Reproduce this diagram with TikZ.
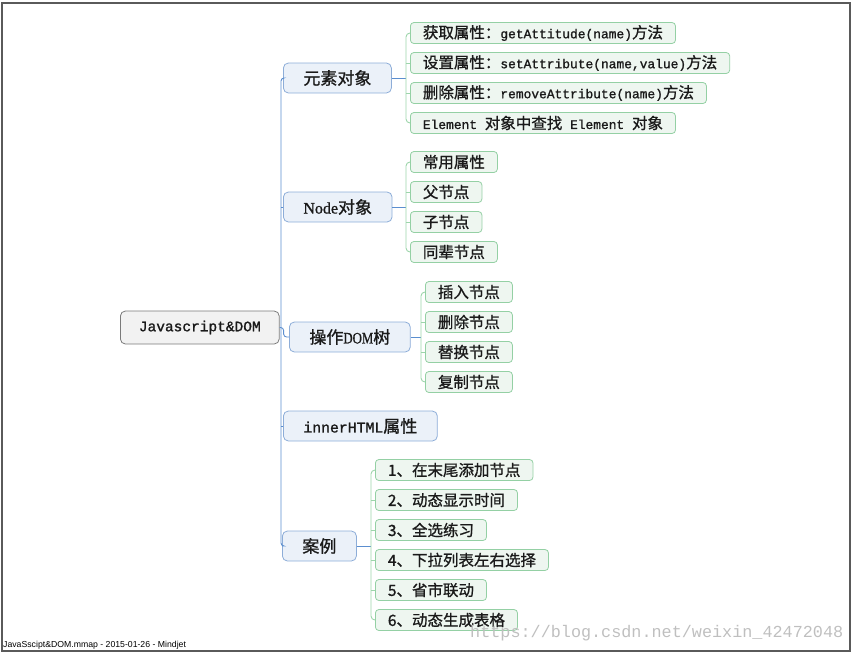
\documentclass[tikz,border=0pt]{standalone}
\usepackage{fontspec}
\usepackage{graphicx}
\setmainfont{Liberation Serif}
\setmonofont{Liberation Mono}[FakeBold=1.2]
\newfontfamily\cjk{Noto Sans CJK SC}[FakeBold=1.0]
\newfontfamily\serb{Liberation Serif}[FakeBold=1.0]
\newfontfamily\wmfont{Liberation Mono}
\newfontfamily\footfont{Liberation Sans}
\definecolor{txt}{HTML}{1A1A1A}
\definecolor{bline}{HTML}{5B8ECF}
\definecolor{lonefill}{HTML}{EBF1F9}
\definecolor{loneborder}{HTML}{8DADD8}
\definecolor{gfill}{HTML}{EEF6F0}
\definecolor{gborder}{HTML}{94D0A4}
\definecolor{gline}{HTML}{9DD5AB}
\definecolor{rootfill}{HTML}{F2F2F2}
\definecolor{rootborder}{HTML}{7A7A7A}
\definecolor{framecol}{HTML}{5A5A5A}
\newcommand\mc[1]{{\fontsize{12.9}{16}\selectfont\ttfamily #1}}
\newcommand\lmc[1]{{\fontsize{14.8}{18}\selectfont\ttfamily #1}}
\newcommand\lser[1]{{\fontsize{16}{18}\selectfont\serb #1}}
\tikzset{
  rootbox/.style={draw=rootborder, fill=rootfill, rounded corners=5pt, line width=0.8pt,
    minimum height=33pt, inner xsep=18.5pt, inner ysep=0pt, anchor=west, text=txt,
    font=\fontsize{14.5}{16}\selectfont\ttfamily},
  lonebox/.style={draw=loneborder, fill=lonefill, rounded corners=5pt, line width=0.8pt,
    minimum height=30pt, inner xsep=20pt, inner ysep=0pt, anchor=west, text=txt,
    font=\fontsize{17}{18}\selectfont\cjk},
  ltwobox/.style={draw=gborder, fill=gfill, rounded corners=3.5pt, line width=0.8pt,
    minimum height=21pt, inner xsep=12.5pt, inner ysep=0pt, anchor=west, text=txt,
    font=\fontsize{15.5}{16}\selectfont\cjk},
  bl/.style={draw=bline, line width=0.9pt},
  gl/.style={draw=gline, line width=0.9pt},
}
\begin{document}
\begin{tikzpicture}[x=1pt, y=-1pt]
\useasboundingbox (0,0) rectangle (853,654);
\draw[framecol, line width=1.3pt] (2,3) rectangle (850,651);

% root
\node[rootbox] (root) at (120,327.5) {Javascript\&DOM};

% level 1
\node[lonebox] (yuansu) at (283,78) {元素对象};
\node[lonebox] (nodeobj) at (283,207) {\lser{Node}对象};
\node[lonebox] (op) at (289,337) {操作\lser{\scalebox{0.8}[1]{DOM}}树};
\node[lonebox] (inner) at (283,426) {\lmc{innerHTML}属性};
\node[lonebox] (anli) at (282,546) {案例};

% level 2 : 元素对象
\node[ltwobox] (a1) at (410,33) {获取属性：\mc{getAttitude(name)}方法};
\node[ltwobox] (a2) at (410,63) {设置属性：\mc{setAttribute(name,value)}方法};
\node[ltwobox] (a3) at (410,93) {删除属性：\mc{removeAttribute(name)}方法};
\node[ltwobox] (a4) at (410,123) {\mc{Element\ }对象中查找\mc{\ Element\ }对象};

% level 2 : Node对象
\node[ltwobox] (b1) at (410,162) {常用属性};
\node[ltwobox] (b2) at (410,192) {父节点};
\node[ltwobox] (b3) at (410,222) {子节点};
\node[ltwobox] (b4) at (410,252) {同辈节点};

% level 2 : 操作DOM树
\node[ltwobox] (c1) at (425,292) {插入节点};
\node[ltwobox] (c2) at (425,322) {删除节点};
\node[ltwobox] (c3) at (425,352) {替换节点};
\node[ltwobox] (c4) at (425,382) {复制节点};

% level 2 : 案例
\node[ltwobox] (d1) at (375,470) {1、在末尾添加节点};
\node[ltwobox] (d2) at (375,500) {2、动态显示时间};
\node[ltwobox] (d3) at (375,530) {3、全选练习};
\node[ltwobox] (d4) at (375,560) {4、下拉列表左右选择};
\node[ltwobox] (d5) at (375,590) {5、省市联动};
\node[ltwobox] (d6) at (375,620) {6、动态生成表格};

% branch coordinates
\coordinate (tx) at (281,0);
\coordinate (ax) at (406,0);
\coordinate (cx) at (421,0);
\coordinate (dx) at (371,0);

% trunk
\draw[bl, rounded corners=3pt] (yuansu.west) -- (yuansu.west -| tx) -- (anli.west -| tx) -- (anli.west);
\draw[bl] (nodeobj.west -| tx) -- (nodeobj.west);
\draw[bl] (inner.west -| tx) -- (inner.west);
\draw[bl, rounded corners=3pt] (root.east) -- ++(4,0) |- (op.west);

% 元素对象 branch
\draw[bl] (yuansu.east) -- (yuansu.east -| ax);
\draw[gl, rounded corners=4pt] (a1.west) -- (a1.west -| ax) -- (a4.west -| ax) -- (a4.west);
\draw[gl] (a2.west -| ax) -- (a2.west);
\draw[gl] (a3.west -| ax) -- (a3.west);

% Node对象 branch
\draw[bl] (nodeobj.east) -- (nodeobj.east -| ax);
\draw[gl, rounded corners=4pt] (b1.west) -- (b1.west -| ax) -- (b4.west -| ax) -- (b4.west);
\draw[gl] (b2.west -| ax) -- (b2.west);
\draw[gl] (b3.west -| ax) -- (b3.west);

% 操作DOM树 branch
\draw[bl] (op.east) -- (op.east -| cx);
\draw[gl, rounded corners=4pt] (c1.west) -- (c1.west -| cx) -- (c4.west -| cx) -- (c4.west);
\draw[gl] (c2.west -| cx) -- (c2.west);
\draw[gl] (c3.west -| cx) -- (c3.west);

% 案例 branch
\draw[bl] (anli.east) -- (anli.east -| dx);
\draw[gl, rounded corners=4pt] (d1.west) -- (d1.west -| dx) -- (d6.west -| dx) -- (d6.west);
\draw[gl] (d2.west -| dx) -- (d2.west);
\draw[gl] (d3.west -| dx) -- (d3.west);
\draw[gl] (d4.west -| dx) -- (d4.west);
\draw[gl] (d5.west -| dx) -- (d5.west);

% watermark and footer
\node[anchor=west, inner sep=0pt, text=black!25, font=\fontsize{16.8}{18}\selectfont\wmfont] (wm) at (470,633) {https://blog.csdn.net/weixin\_42472048};
\node[anchor=west, inner sep=0pt, text=black, font=\fontsize{8.7}{10}\selectfont\footfont] (foot) at (3,645) {JavaSscipt\&DOM.mmap - 2015-01-26 - Mindjet};
\end{tikzpicture}
\end{document}
